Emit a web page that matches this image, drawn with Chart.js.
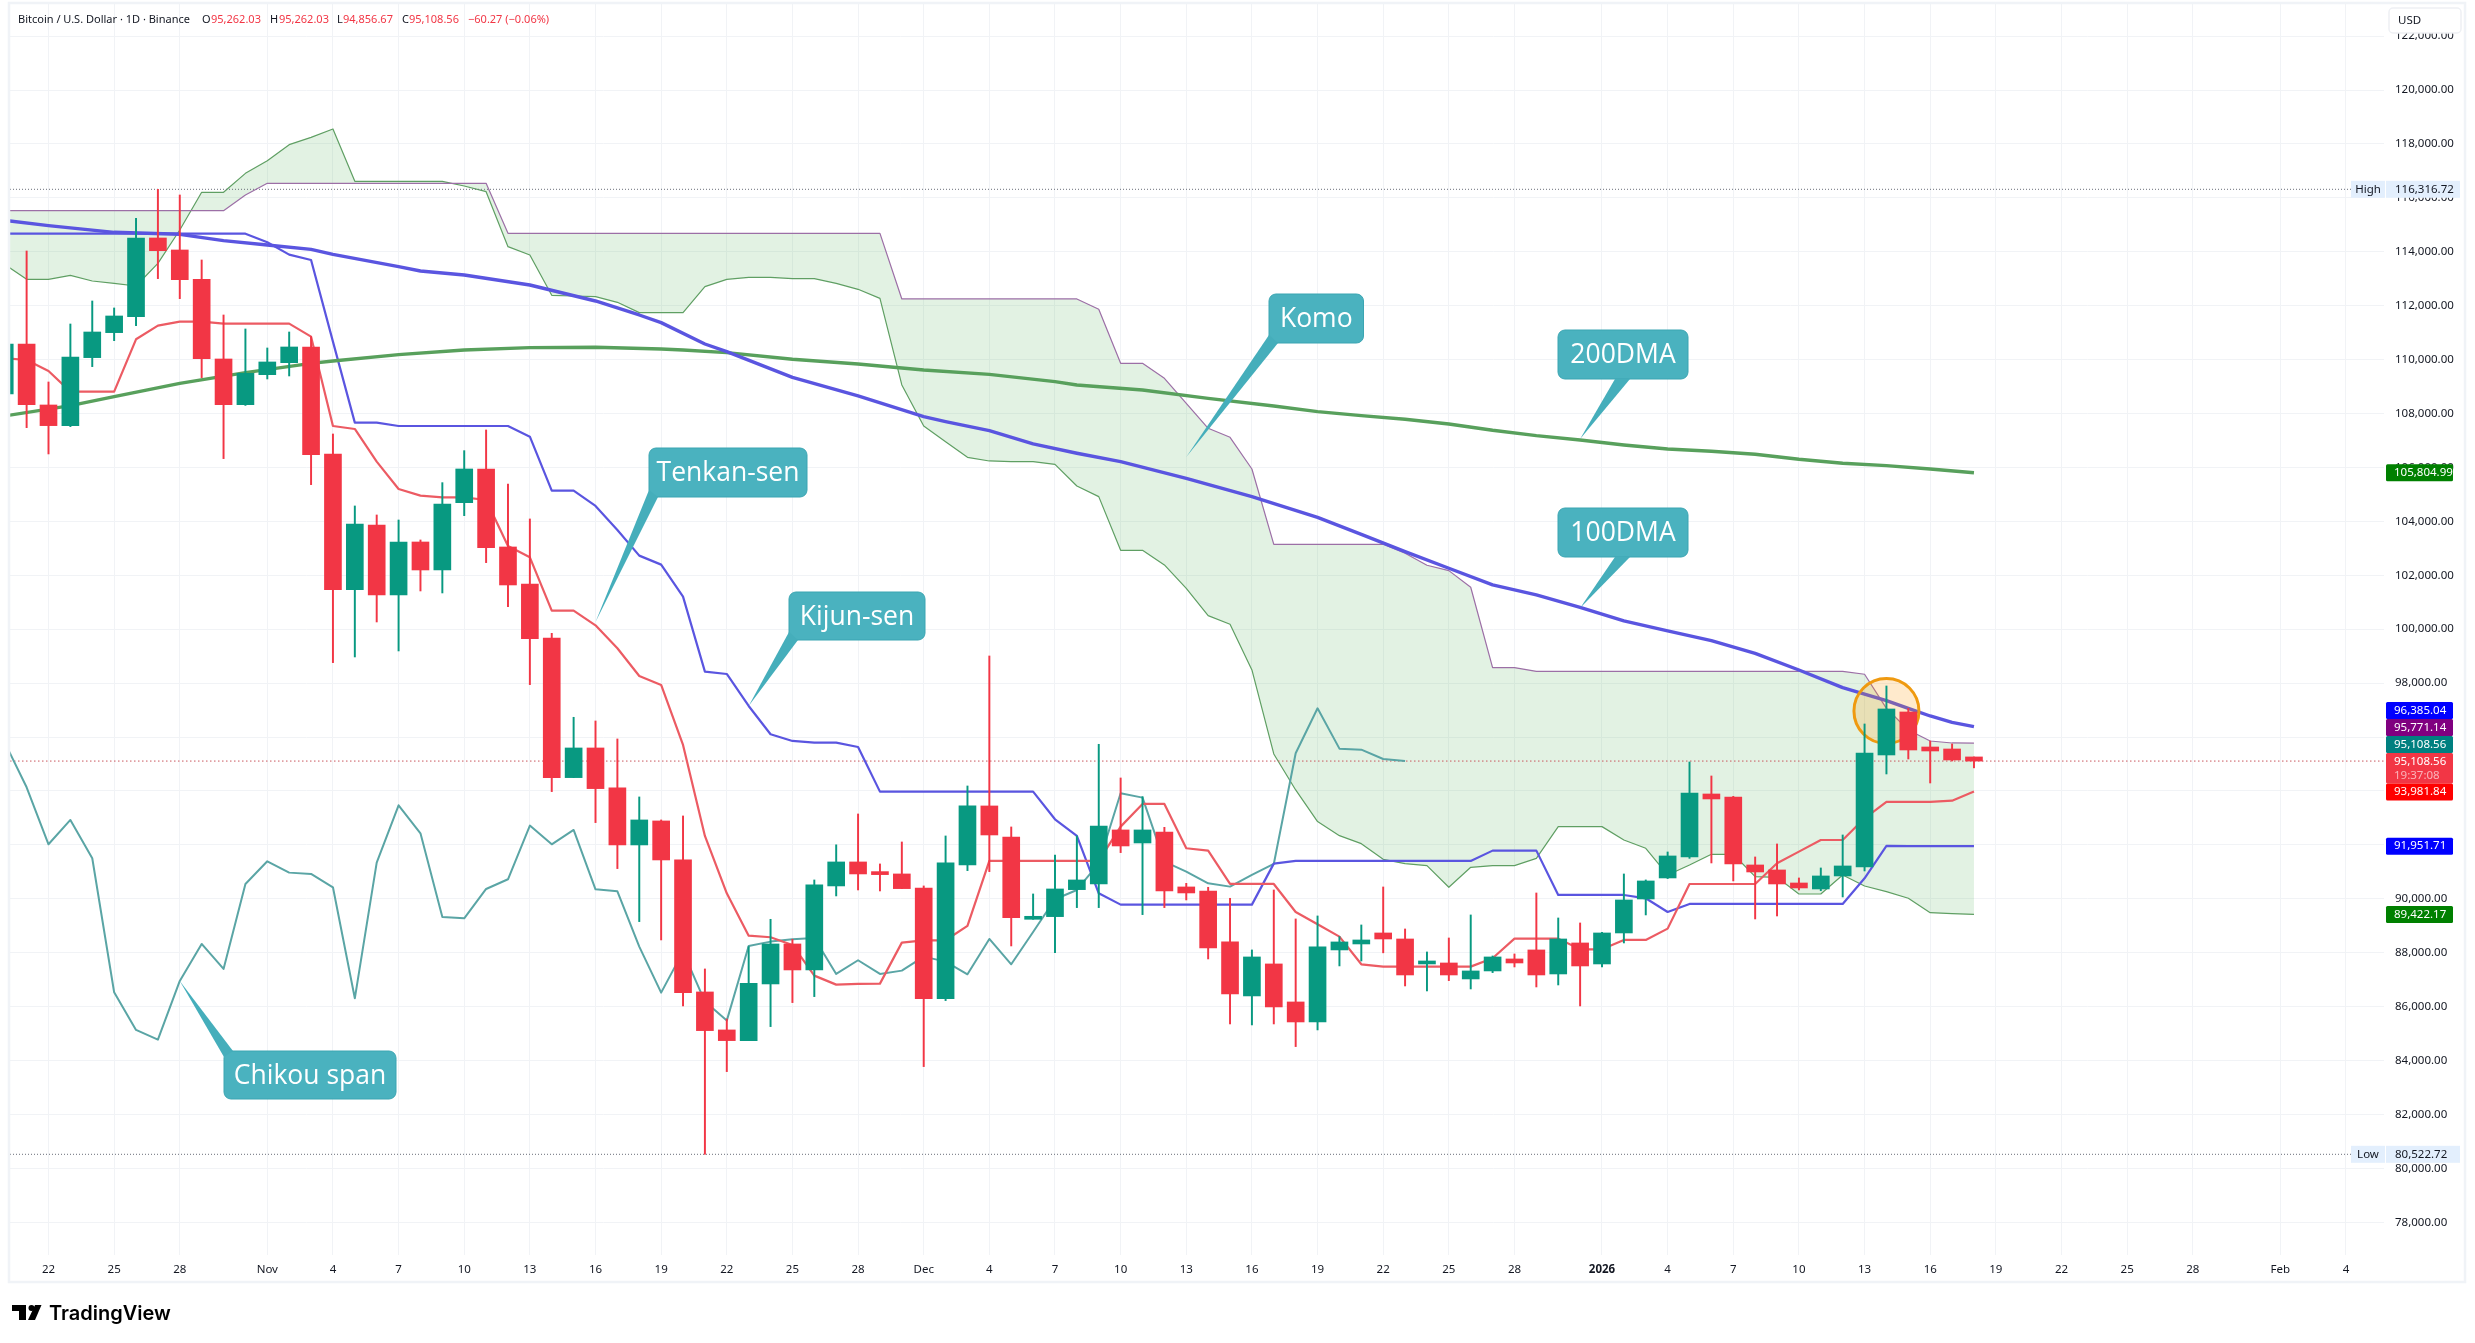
<!DOCTYPE html>
<html>
<head>
<meta charset="utf-8">
<title>Bitcoin / U.S. Dollar</title>
<style>html,body{margin:0;padding:0;background:#fff}canvas{display:block}</style>
<script src="https://cdn.jsdelivr.net/npm/chart.js@4/dist/chart.umd.min.js"></script>
</head>
<body>
<canvas id="c" width="2475" height="1343"></canvas>
<script>
// Day numbers count from 22 Oct (0). Series below begin at firstDay.
const firstDay = -2;
const tickDays = [0,3,6,10,13,16,19,22,25,28,31,34,37,40,43,46,49,52,55,58,61,64,67,71,74,77,80,83,86,89,92,95,98,102,105];
const tickLabels = ['22','25','28','Nov','4','7','10','13','16','19','22','25','28','Dec','4','7','10','13','16','19','22','25','28','2026','4','7','10','13','16','19','22','25','28','Feb','4'];
const priceTicks = [78000,80000,82000,84000,86000,88000,90000,92000,94000,96000,98000,100000,102000,104000,106000,108000,110000,112000,114000,116000,118000,120000,122000];

const opens = [
108725,110579,108317,107551,110073,111000,111593,114511,114066,112978,
110023,108329,109442,109887,110468,106500,101468,103866,101270,103235,
102197,104694,105943,103050,101678,99675,94495,95595,94112,91998,
92888,91441,86545,85136,84740,86842,88325,87361,90477,91367,
90959,90922,90402,86298,91256,93444,92294,89240,89339,90340,
90551,92554,92071,92479,90440,90291,88400,86397,87584,86174,
85432,88103,88325,88733,88510,87583,87620,87027,87324,87769,
88103,87212,88362,87583,88733,89994,90773,91552,93888,93777,
91255,91070,90587,90365,90847,91181,95335,96930,95631,95557,
95262.03];
const highs = [
110900,114029,109170,111321,112174,111915,115240,116316.72,116106,113695,
111655,111136,110431,111024,110852,107241,104571,104237,104051,103310,
105436,106623,107390,105387,104089,99848,96733,96596,95929,93778,
92925,93073,87398,85542,88226,89240,88499,90699,92003,93147,
91293,92108,90477,92331,94185,99007,92665,90180,91626,92331,
95731,94482,93790,92652,90575,90427,90019,88103,90328,89253,
89364,88598,89030,90439,88881,88028,88547,89401,87880,87954,
90216,89289,89104,88760,90921,90700,91737,95075,94556,93800,
91552,92034,90773,91144,92368,96485,97894,97066,95854,95743,
95262.03];
const lows = [
108200,107476,106500,107513,109739,110703,111259,113003,112261,109331,
106327,108300,109281,109393,105362,98760,98970,100268,99193,101418,
101344,104212,102469,100837,97944,93976,94495,92826,91120,89154,
88474,86026,80522.72,83590,84740,85259,86150,86372,90106,90328,
90291,90378,83776,86224,91045,91008,88251,89240,88004,89673,
89673,91713,89413,89673,89957,87769,85358,85321,85358,84518,
85136,87510,87694,87996,86767,86582,86965,86656,87262,87472,
86730,86804,86026,87472,88362,89401,90750,91500,91329,90662,
89252,89363,90328,90300,90068,91032,94630,95186,94296,95112,
94856.67];
const closes = [
110579,108329,107551,110097,111024,111618,114511,114041,112965,110035,
108329,109491,109912,110468,106475,101468,103903,101270,103235,102197,
104645,105943,103025,101641,99650,94495,95595,94087,91998,92925,
91441,86520,85111,84740,86867,88325,87361,90514,91367,90922,
90897,90378,86298,91330,93444,92368,89302,89265,90365,90699,
92702,91960,92554,90291,90217,88177,86471,87843,85989,85432,
88214,88400,88473,88510,87175,87694,87175,87324,87843,87620,
87175,88510,87509,88733,89957,90662,91589,93925,93703,91292,
90995,90550,90402,90847,91218,95409,97041,95520,95483,95149,
95108.56];
const tenkan = [
110048,109986,109578,108812,108812,108812,110753,111259,111408,111408,
111334,111334,111334,111334,110851,107538,107427,106216,105202,104954,
104893,104893,104793,103087,102667,100689,100689,100145,99292,98266,
97932,95706,92331,90205,88634,88573,88288,87151,86817,86842,
86854,88375,88461,88461,88993,91404,91404,91404,91404,91404,
91404,92677,93518,93518,91874,91787,90551,90551,90551,89512,
89055,88597,87571,87484,87484,87484,87484,87484,87793,88523,
88523,88523,88127,88127,88473,88473,88894,90550,90550,90550,
90550,91317,91750,92182,92182,92986,93592,93592,93592,93641,
93981.84];
const kijun = [
114671,114671,114671,114671,114671,114671,114671,114671,114671,114671,
114671,114671,114350,113893,113695,110666,107662,107662,107538,107538,
107538,107538,107538,107538,107142,105140,105140,104571,103681,102729,
102395,101208,98426,98339,97153,96102,95855,95793,95793,95632,
93975,93975,93975,93975,93975,93975,93975,93975,92949,92331,
90205,89784,89784,89784,89784,89784,89784,89784,91305,91404,
91404,91404,91404,91404,91404,91404,91404,91404,91787,91787,
91787,90142,90142,90142,90142,90019,89512,89809,89809,89809,
89809,89809,89809,89809,89809,90761,91960,91951.71,91951.71,91951.71,
91951.71];
const chikou = [
95800,94136,92022,92925,91503,86533,85136,84777,86953,88325,
87398,90551,91392,90971,90922,90427,86310,91342,93469,92430,
89327,89277,90365,90724,92715,92022,92554,90353,90279,88227,
86520,88041,86187,85482,88251,88412,88499,88548,87213,87720,
87213,87336,87856,87670,87200,88511,87571,88771,89982,90328,
91317,93913,93753,91379,91008,90575,90452,90885,91293,95397,
97066,95570,95533,95186,95108.56];
const spanA = [
113534,112978,112978,113126,112916,112830,112731,113571,114807,116205,
116205,116909,117379,117973,118244,118554,116613,116613,116613,116613,
116613,116440,116229,114189,113880,112384,112360,112335,112125,111742,
111742,111742,112706,112978,113052,113052,113003,113003,112830,112607,
112273,109059,107538,106957,106376,106240,106215,106215,106116,105313,
104917,102927,102927,102383,101517,100504,100182,98488,95372,94037,
92863,92343,92046,91465,91304,91230,90427,91168,91230,91230,
91502,92677,92677,92677,92182,91873,90884,91255,91651,91651,
90822,90798,90179,90179,90884,90476,90266,90019,89487,89450,
89422.17];
const spanB = [
115525,115525,115525,115525,115525,115525,115525,115525,115525,115525,
115525,116106,116538,116538,116538,116538,116538,116538,116538,116538,
116538,116538,116538,114684,114684,114684,114684,114684,114684,114684,
114684,114684,114684,114684,114684,114684,114684,114684,114684,114684,
114684,112249,112249,112249,112249,112249,112249,112249,112249,112249,
111865,109862,109862,109306,108379,107452,107118,105943,103149,103149,
103149,103149,103149,103149,102816,102371,102173,101555,98575,98575,
98439,98439,98439,98439,98439,98439,98439,98439,98439,98439,
98439,98439,98439,98439,98439,98328,97066,96262,95854,95780,
95771.14];
const dma100Days = [-2,0,3,6,8,10,12,13,16,17,19,22,25,27,28,30,31,34,37,40,41,43,45,47,49,52,55,58,60,62,64,66,68,70,72,74,76,78,80,82,84,85,86,87,88];
const dma100 = [115166,114968,114721,114647,114412,114251,114090,113905,113448,113287,113138,112768,112174,111655,111371,110579,110295,109343,108651,107884,107699,107365,106871,106525,106215,105597,104917,104150,103520,102878,102260,101641,101270,100813,100306,99935,99577,99105,98487,97832,97350,97066,96781,96546,96385.04];
const dma200Days = [-2,1,3,6,9,12,13,16,19,22,25,28,29,31,34,37,40,43,46,47,50,53,56,58,60,62,64,66,68,70,72,74,76,78,80,82,84,86,88];
const dma200 = [107909,108292,108626,109120,109516,109862,109949,110184,110357,110444,110456,110394,110357,110258,110011,109838,109615,109454,109183,109059,108873,108564,108280,108070,107922,107786,107613,107378,107180,107019,106834,106685,106599,106488,106302,106154,106067,105944,105804.99];
const highPrice = 116316.72, lowPrice = 80522.72, lastPrice = 95108.56;

// Layout and style
const X_MIN = -1.7596, X_MAX = 106.74, Y_MIN = 76788, Y_MAX = 123227;
const UP = '#089981', DOWN = '#f23645', INK = '#131722', GRID = '#f1f3f6';
const TXT = '"Noto Sans", sans-serif';
const day = (a, i) => i + firstDay;
const asPts = (vals) => vals.map((y, i) => ({x: day(vals, i), y}));
const zip = (xs, ys) => xs.map((x, i) => ({x, y: ys[i]}));
const candleColor = opens.map((o, i) => closes[i] >= o ? UP : DOWN);
const lineDs = (label, data, color, width, order, extra) => Object.assign({type:'line', label, data, borderColor:color, borderWidth:width, pointRadius:0, tension:0, order, borderJoinStyle:'round'}, extra||{});
const fmt = v => v.toLocaleString('en-US',{minimumFractionDigits:2, maximumFractionDigits:2});
const noAxisPadding = a => { a.paddingLeft = a.paddingRight = a.paddingTop = a.paddingBottom = 0; };

const cloudFill = 'rgba(76,175,80,0.16)';
const datasets = [
  lineDs('Last', [{x:X_MIN,y:lastPrice},{x:X_MAX,y:lastPrice}], '#c9555c', 1, 7.5, {borderDash:[1.5,2.5]}),
  lineDs('High', [{x:X_MIN,y:highPrice},{x:X_MAX,y:highPrice}], '#6a6d78', 1, 7.5, {borderDash:[1,2]}),
  lineDs('Low',  [{x:X_MIN,y:lowPrice},{x:X_MAX,y:lowPrice}], '#6a6d78', 1, 7.5, {borderDash:[1,2]}),
  lineDs('Span A', asPts(spanA), '#5f9f63', 1.2, 8, {fill:{target:'+1', above:cloudFill, below:cloudFill}}),
  lineDs('Span B', asPts(spanB), '#9c6fa6', 1.2, 7),
  lineDs('Chikou', asPts(chikou), '#5aa5a5', 2, 6),
  lineDs('Kijun', asPts(kijun), '#5a55e0', 2.2, 5),
  lineDs('Tenkan', asPts(tenkan), '#ec5b63', 2.2, 4),
  lineDs('200DMA', zip(dma200Days, dma200), '#58a05c', 3.4, 3),
  lineDs('100DMA', zip(dma100Days, dma100), '#5a55e0', 3.4, 2),
  {type:'bar', label:'Wicks', order:1, grouped:false, barThickness:1.3, borderWidth:0,
   backgroundColor:candleColor, data:lows.map((l,i)=>({x:day(lows,i), y:[l, highs[i]]}))},
  {type:'bar', label:'Candles', order:0, grouped:false, barThickness:17, borderWidth:0, minBarLength:3,
   backgroundColor:candleColor, data:opens.map((o,i)=>({x:day(opens,i), y:[o, closes[i]]}))}
];
const DMA100_INDEX = 9;

// Annotations: the tip sits on a data position, the box is placed on the page
const callouts = [
  {text:'Tenkan-sen', day:25, price:100268, box:[649,448,158,49], base:[0,42,9,49]},
  {text:'Kijun-sen',  day:32, price:97153,  box:[789,592,136,48], base:[0,40,9,48]},
  {text:'Komo',       day:52, price:106388, box:[1269,294,94.5,49], base:[0,41,9,49]},
  {text:'200DMA',     day:70, price:107056, box:[1558,330,130,49], base:[57,49,72,49]},
  {text:'100DMA',     day:70, price:100787, box:[1558,508,130,49], base:[57,49,72,49]},
  {text:'Chikou span',day:6,  price:86953,  box:[224,1051,172,48], base:[0,6,9,0]}
];
const stackedTags = [
  {lines:['96,385.04'], top:702, h:17, bg:'#0000ff'},
  {lines:['95,771.14'], top:719, h:17, bg:'#800080'},
  {lines:['95,108.56'], top:736, h:17, bg:'#008080'},
  {lines:['95,108.56','19:37:08'], top:753, h:30.5, bg:'#f23645'},
  {lines:['93,981.84'], top:783.5, h:17, bg:'#ff0000'}
];
const priceTags = [
  {price:91951.71, bg:'#0000ff'},
  {price:89422.17, bg:'#008000'},
  {price:105804.99, bg:'#008000'}
];

const overlay = {
  id:'overlay',
  afterDatasetDraw(chart, args){
    if(args.index !== DMA100_INDEX) return;
    const c = chart.ctx, s = chart.scales;
    c.save();
    c.beginPath();
    c.arc(s.x.getPixelForValue(84), s.y.getPixelForValue(96967), 32.5, 0, Math.PI*2);
    c.fillStyle = 'rgba(255,152,0,0.2)'; c.fill();
    c.lineWidth = 3; c.strokeStyle = '#ef9a10'; c.stroke();
    c.restore();
  },
  afterDraw(chart){
    const c = chart.ctx, s = chart.scales;
    c.save();
    // frame
    c.strokeStyle = '#f0f3f7'; c.lineWidth = 2.5;
    c.strokeRect(9, 3, 2456, 1279);

    // callouts
    callouts.forEach(k=>{
      const [bx,by,bw,bh] = k.box, tx = s.x.getPixelForValue(k.day), ty = s.y.getPixelForValue(k.price);
      c.fillStyle = '#4ab2bf'; c.strokeStyle = '#3ba5b2'; c.lineWidth = 1;
      c.beginPath(); c.roundRect(bx,by,bw,bh,7); c.fill(); c.stroke();
      c.beginPath(); c.moveTo(tx,ty); c.lineTo(bx+k.base[0],by+k.base[1]); c.lineTo(bx+k.base[2],by+k.base[3]); c.closePath();
      c.fillStyle = '#45aebb'; c.fill();
      c.fillStyle = '#ffffff'; c.font = '400 26.5px "Open Sans", sans-serif'; c.textAlign='center'; c.textBaseline='middle';
      c.fillText(k.text, bx+bw/2, by+bh/2+1);
    });

    // header
    c.textBaseline='middle'; c.textAlign='left'; c.font = '11px '+TXT;
    [['Bitcoin / U.S. Dollar · 1D · Binance',18,INK],['O',202,INK],['95,262.03',211,DOWN],['H',270,INK],['95,262.03',279,DOWN],['L',337,INK],['94,856.67',343,DOWN],['C',402,INK],['95,108.56',409,DOWN],['−60.27 (−0.06%)',468,DOWN]]
      .forEach(t=>{c.fillStyle=t[2]; c.fillText(t[0],t[1],20);});

    // USD box
    c.fillStyle='#fff'; c.strokeStyle='#eef0f4'; c.lineWidth=1.5;
    c.beginPath(); c.roundRect(2389,8,72,25,4); c.fill(); c.stroke();
    c.fillStyle=INK; c.font='11.5px '+TXT; c.fillText('USD',2398,21);

    // price tags
    const tag = (top,h,lines,bg,color)=>{
      c.fillStyle=bg; c.beginPath(); c.roundRect(2386,top,67,h,1.5); c.fill();
      lines.forEach((t,i)=>{ c.fillStyle = i? 'rgba(255,255,255,0.62)' : (color||'#fff'); c.fillText(t,2394,top+8.5+i*14); });
    };
    c.font='11.5px '+TXT; c.textAlign='left';
    stackedTags.forEach(t=>tag(t.top,t.h,t.lines,t.bg));
    priceTags.forEach(t=>tag(s.y.getPixelForValue(t.price)-8.5,17,[fmt(t.price)],t.bg));

    // high / low tags
    [['High',highPrice],['Low',lowPrice]].forEach(([name,p])=>{
      const y = s.y.getPixelForValue(p);
      c.fillStyle='#e3effd';
      c.fillRect(2351,y-8.5,34,17); c.fillRect(2386,y-8.5,74,17);
      c.fillStyle=INK; c.fillText(fmt(p),2395,y); c.textAlign='center'; c.fillText(name,2368,y); c.textAlign='left';
    });

    // brand
    c.fillStyle='#000';
    c.fillRect(12,1305,14,6); c.fillRect(19,1305,7,15);
    c.beginPath(); c.arc(31.5,1308,3,0,Math.PI*2); c.fill();
    c.beginPath(); c.moveTo(35,1305); c.lineTo(41.5,1305); c.lineTo(35,1320); c.lineTo(28,1320); c.closePath(); c.fill();
    c.font='600 20px Inter, sans-serif'; c.textBaseline='middle'; c.fillText('TradingView',49,1314);
    c.restore();
  }
};

new Chart(document.getElementById('c'), {
  type:'bar',
  data:{datasets},
  plugins:[overlay],
  options:{
    responsive:false, animation:false, devicePixelRatio:1, events:[],
    layout:{autoPadding:false, padding:{left:10, top:3, right:10, bottom:61}},
    plugins:{legend:{display:false}, tooltip:{enabled:false}, title:{display:false}, filler:{propagate:false}},
    scales:{
      x:{type:'linear', min:X_MIN, max:X_MAX, offset:false,
        grid:{color:GRID, lineWidth:1, drawTicks:false, offset:false}, border:{display:false},
        afterBuildTicks(a){ a.ticks = tickDays.map(value=>({value})); },
        afterFit(a){ a.height = 27; noAxisPadding(a); },
        ticks:{autoSkip:false, maxRotation:0, padding:8, color:INK,
          font:(ctx)=>({family:TXT, size:11.5, weight: ctx.tick && ctx.tick.value===71 ? '700':'400'}),
          callback:(v)=>{const i=tickDays.indexOf(v); return i<0?'':tickLabels[i];}}},
      y:{type:'linear', position:'right', min:Y_MIN, max:Y_MAX,
        grid:{color:GRID, lineWidth:1, drawTicks:false}, border:{display:false},
        afterBuildTicks(a){ a.ticks = priceTicks.map(value=>({value})); },
        afterFit(a){ a.width = 81; noAxisPadding(a); },
        ticks:{autoSkip:false, padding:11, color:INK, font:{family:TXT, size:11.5}, callback:(v)=>fmt(v)}}
    }
  }
});
</script>
</body>
</html>
